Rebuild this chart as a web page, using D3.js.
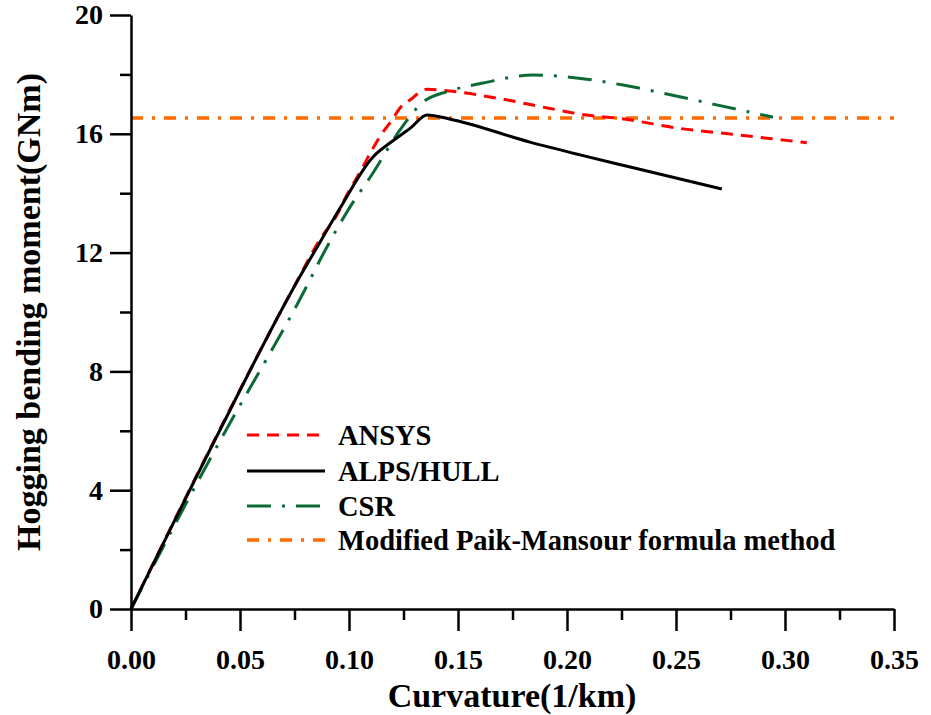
<!DOCTYPE html>
<html>
<head>
<meta charset="utf-8">
<script src="https://cdn.jsdelivr.net/npm/d3@7"></script>
<style>
  html, body { margin: 0; padding: 0; background: #fff; }
  svg text { font-family: "Liberation Serif", "Times New Roman", serif; font-weight: bold; fill: #000; }
</style>
</head>
<body>
<svg id="chart" width="931" height="715"></svg>
<script>
// Hogging moment vs curvature, four methods
const xTicks = [0, 0.05, 0.10, 0.15, 0.20, 0.25, 0.30, 0.35];
const yTicks = [0, 4, 8, 12, 16, 20];

const ansysX = [0, 0.0385, 0.0766, 0.0867, 0.0945, 0.099, 0.105, 0.1105, 0.1156, 0.1197, 0.1234, 0.128, 0.1358, 0.146, 0.168, 0.191, 0.209, 0.224, 0.2518, 0.275, 0.31];
const ansysY = [0, 5.72, 11.1, 12.45, 13.27, 13.94, 14.7, 15.45, 16.06, 16.46, 16.87, 17.14, 17.5, 17.44, 17.2, 16.87, 16.63, 16.52, 16.18, 15.99, 15.70];

const alpsX = [0, 0.0385, 0.0766, 0.0867, 0.0959, 0.111, 0.1197, 0.1283, 0.1358, 0.146, 0.183, 0.206, 0.229, 0.271];
const alpsY = [0, 5.69, 11.08, 12.35, 13.5, 15.22, 15.74, 16.2, 16.63, 16.5, 15.72, 15.29, 14.88, 14.14];

const csrX = [0, 0.0385, 0.0454, 0.0821, 0.0867, 0.1005, 0.111, 0.1234, 0.134, 0.146, 0.1615, 0.1844, 0.209, 0.2257, 0.244, 0.267, 0.2945];
const csrY = [0, 5.35, 6.26, 11.08, 11.75, 13.54, 14.68, 16.13, 17.07, 17.44, 17.71, 17.98, 17.84, 17.64, 17.37, 17.0, 16.56];

const paikX = [0, 0.35];
const paikY = [16.53, 16.53];

const seriesNames = ["ANSYS", "ALPS/HULL", "CSR", "Modified Paik-Mansour formula method"];

const svg = d3.select("#chart");
const x = d3.scaleLinear().domain([0, 0.35]).range([131, 894]);
const y = d3.scaleLinear().domain([0, 20]).range([609, 15]);

const series = [
  { name: seriesNames[0], xs: ansysX, ys: ansysY, color: "#ff0000", dash: "12,8", width: 3 },
  { name: seriesNames[1], xs: alpsX, ys: alpsY, color: "#000000", dash: null, width: 3 },
  { name: seriesNames[2], xs: csrX, ys: csrY, color: "#0b6a35", dash: "24,11,3,11", width: 3 },
  { name: seriesNames[3], xs: paikX, ys: paikY, color: "#ff6a00", dash: "12,9,3,9", width: 3.5 }
];

const line = d3.line().x(d => x(d[0])).y(d => y(d[1])).curve(d3.curveMonotoneX);

// curves
const plot = svg.append("g");
[series[3], series[0], series[2], series[1]].forEach(s => {
  const pts = s.xs.map((v, i) => [v, s.ys[i]]);
  plot.append("path")
    .datum(pts)
    .attr("d", line)
    .attr("fill", "none")
    .attr("stroke", s.color)
    .attr("stroke-width", s.width)
    .attr("stroke-dasharray", s.dash)
    .attr("stroke-linejoin", "round");
});

// axes: minor ticks first, then major ticks with labels
const minorX = d3.range(0.025, 0.35, 0.05);
const minorY = d3.range(2, 20, 4);

svg.append("g").attr("transform", "translate(0,609)")
  .call(d3.axisBottom(x).tickValues(minorX).tickSize(11).tickFormat(""))
  .call(g => g.select(".domain").remove());
svg.append("g").attr("transform", "translate(131,0)")
  .call(d3.axisLeft(y).tickValues(minorY).tickSize(11).tickFormat(""))
  .call(g => g.select(".domain").remove());

svg.append("g").attr("transform", "translate(0,609)")
  .call(d3.axisBottom(x).tickValues(xTicks).tickSize(22).tickPadding(18).tickSizeOuter(0).tickFormat(d3.format(".2f")));
svg.append("g").attr("transform", "translate(131,0)")
  .call(d3.axisLeft(y).tickValues(yTicks).tickSize(21).tickPadding(7).tickSizeOuter(0).tickFormat(d3.format("d")));

svg.selectAll(".tick line").attr("stroke", "#000").attr("stroke-width", 2.5);
svg.selectAll(".domain").attr("stroke", "#000").attr("stroke-width", 2.5);
svg.selectAll(".tick text")
  .attr("font-family", "Liberation Serif, Times New Roman, serif")
  .attr("font-weight", "bold")
  .attr("font-size", 28)
  .attr("fill", "#000");

// axis titles
svg.append("text")
  .attr("x", 512).attr("y", 707)
  .attr("text-anchor", "middle")
  .attr("font-size", 34)
  .text("Curvature(1/km)");

svg.append("text")
  .attr("transform", "translate(40,312) rotate(-90)")
  .attr("text-anchor", "middle")
  .attr("font-size", 34)
  .text("Hogging bending moment(GNm)");

// legend
const legend = svg.append("g");
const rowY = [435, 471, 506, 540];
series.forEach((s, i) => {
  legend.append("line")
    .attr("x1", 247).attr("x2", 325)
    .attr("y1", rowY[i]).attr("y2", rowY[i])
    .attr("stroke", s.color)
    .attr("stroke-width", s.width)
    .attr("stroke-dasharray", s.dash);
  legend.append("text")
    .attr("x", 338).attr("y", rowY[i])
    .attr("dy", "0.35em")
    .attr("font-size", 28.5)
    .text(s.name);
});
</script>
</body>
</html>
